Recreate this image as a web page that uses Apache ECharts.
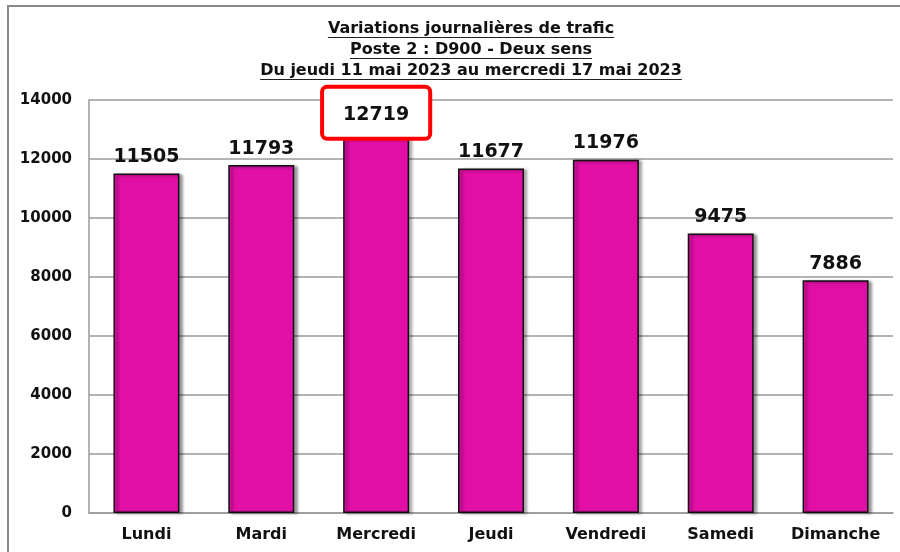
<!DOCTYPE html>
<html>
<head>
<meta charset="utf-8">
<script src="https://cdn.jsdelivr.net/npm/echarts@6/dist/echarts.min.js"></script>
<style>
  html, body { margin: 0; padding: 0; background: #fff; }
  #chart { width: 900px; height: 552px; }
</style>
</head>
<body>
<div id="chart"></div>
<script>
const days = ['Lundi', 'Mardi', 'Mercredi', 'Jeudi', 'Vendredi', 'Samedi', 'Dimanche'];
const traffic = [11505, 11793, 12719, 11677, 11976, 9475, 7886];
const titleLines = [
  'Variations journalières de trafic',
  'Poste 2 : D900 - Deux sens',
  'Du jeudi 11 mai 2023 au mercredi 17 mai 2023'
];

const FONT = 'DejaVu Sans';
const maxIdx = traffic.indexOf(Math.max(...traffic));

// width of a title line, for the underline
const ctx = document.createElement('canvas').getContext('2d');
ctx.font = 'bold 16px "' + FONT + '"';
const titleX = 471;
const titleGraphics = [];
titleLines.forEach((t, i) => {
  const y = 29 + i * 21;
  const w = ctx.measureText(t).width;
  titleGraphics.push({
    type: 'text', x: titleX, y: y,
    style: { text: t, font: 'bold 16px "' + FONT + '"', fill: '#111', align: 'center', verticalAlign: 'middle' }
  });
  titleGraphics.push({
    type: 'line',
    shape: { x1: titleX - w / 2, y1: y + 8.5, x2: titleX + w / 2, y2: y + 8.5 },
    style: { stroke: '#222', lineWidth: 1.2 }
  });
});

const chart = echarts.init(document.getElementById('chart'));
chart.setOption({
  animation: false,
  grid: { left: 89, right: 7, top: 100, bottom: 39 },
  graphic: [
    {
      type: 'polyline',
      shape: { points: [[8, 552], [8, 6], [900, 6]] },
      style: { stroke: '#8a8a8a', lineWidth: 2, fill: null }
    }
  ].concat(titleGraphics),
  xAxis: {
    type: 'category',
    data: days,
    axisLine: { lineStyle: { color: '#9a9a9a', width: 1.5 } },
    axisTick: { show: false },
    axisLabel: {
      interval: 0, hideOverlap: false,
      color: '#111', fontFamily: FONT, fontWeight: 'bold', fontSize: 16, margin: 14
    }
  },
  yAxis: {
    type: 'value',
    min: 0, max: 14000, interval: 2000,
    axisLine: { show: true, lineStyle: { color: '#9a9a9a', width: 1.5 } },
    axisTick: { show: false },
    axisLabel: {
      color: '#111', fontFamily: FONT, fontWeight: 'bold', fontSize: 15, margin: 17,
      formatter: (v) => String(v)
    },
    splitLine: { lineStyle: { color: '#9a9a9a', width: 1.5 } }
  },
  series: [{
    type: 'bar',
    barWidth: 66,
    data: traffic.map((v, i) => {
      const d = { value: v };
      if (i === maxIdx) {
        d.label = {
          borderColor: '#ff0000', borderWidth: 4, borderRadius: 3,
          backgroundColor: '#fff',
          padding: [17, 19, 12, 19], distance: 1
        };
      }
      return d;
    }),
    itemStyle: {
      color: '#e10fa6',
      borderColor: '#111',
      borderWidth: 1.5,
      shadowColor: 'rgba(0,0,0,0.4)',
      shadowBlur: 3,
      shadowOffsetX: 3,
      shadowOffsetY: 1
    },
    label: {
      show: true, position: 'top', distance: 7,
      color: '#111', fontFamily: FONT, fontWeight: 'bold', fontSize: 19
    }
  }]
});
</script>
</body>
</html>
